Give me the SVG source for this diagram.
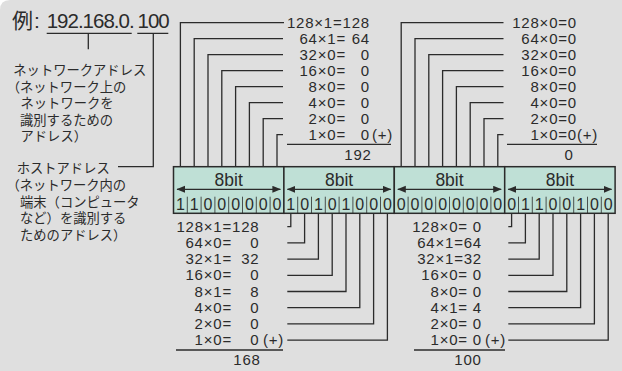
<svg xmlns="http://www.w3.org/2000/svg" width="622" height="371" viewBox="0 0 622 371">
<defs>
<style>
.bg{fill:#dfdfdf}
.ln{fill:none;stroke:#2b2b2b;stroke-width:1.3}
.num{font-family:"Liberation Sans",Arial,sans-serif;font-size:15px;fill:#2b2b2b;letter-spacing:0.8px}
.ja{font-family:"Noto Sans CJK JP","Noto Sans CJK SC",sans-serif;font-size:13.3px;fill:#2b2b2b}
.ttl{font-family:"Liberation Sans",Arial,sans-serif;font-size:20.5px;fill:#2b2b2b;letter-spacing:-1px}
.oct{fill:#bfe0d6;stroke:#2b2b2b;stroke-width:1.5}
.div{stroke:#2b2b2b;stroke-width:0.8}
.bit{font-family:"Liberation Sans",Arial,sans-serif;font-size:16px;fill:#2b2b2b;text-anchor:middle}
.lbl{font-family:"Liberation Sans",Arial,sans-serif;font-size:17.5px;fill:#2b2b2b;text-anchor:middle}
.arr{stroke:#2b2b2b;stroke-width:1.2;marker-start:url(#ah);marker-end:url(#ah)}
.e{text-anchor:end}
.m{text-anchor:middle}
</style>
<marker id="ah" markerUnits="userSpaceOnUse" markerWidth="9" markerHeight="8" refX="8" refY="3.5" orient="auto-start-reverse">
<path d="M0,0 L8.5,3.5 L0,7 Z" fill="#2b2b2b"/>
</marker>
</defs>
<rect width="622" height="371" fill="#fff"/>
<path class="bg" d="M10,0 H622 V371 H0 V10 Q0,0 10,0 Z"/>

<g id="title">
<text x="12" y="28" style="font-family:'Noto Sans CJK JP',sans-serif;font-size:21px;fill:#2b2b2b">例</text>
<text x="34" y="28" style="font-family:'Liberation Sans',Arial,sans-serif;font-size:21px;fill:#2b2b2b">:</text>
<text class="ttl" x="46.7" y="28">192.168.0.</text>
<text class="ttl" x="137.5" y="28">100</text>
<path class="ln" d="M46.7 33.3 H131.7 M137.3 33.3 H168.3"/>
</g>

<g id="network-address-label">
<text class="ja"><tspan x="13.3" y="75">ネットワークアドレス</tspan><tspan x="6.7" y="91.5">（ネットワーク上の</tspan><tspan x="20.5" y="108">ネットワークを</tspan><tspan x="20" y="124.5">識別するための</tspan><tspan x="20.5" y="141">アドレス）</tspan></text>
</g>

<g id="host-address-label">
<text class="ja"><tspan x="16.7" y="173">ホストアドレス</tspan><tspan x="6.5" y="190">（ネットワーク内の</tspan><tspan x="20" y="206.7">端末（コンピュータ</tspan><tspan x="20" y="223.3">など）を識別する</tspan><tspan x="20" y="240">ためのアドレス）</tspan></text>
</g>

<g id="connectors">
<path class="ln" d="M88.3 33.3 V49.3"/>
<path class="ln" d="M153.3 33.3 V166.7 H118"/>
<path class="ln" d="M180.4 166.7 V22.7 H284 M194.2 166.7 V38.7 H283 M208 166.7 V54.7 H283 M221.8 166.7 V70.7 H283 M235.6 166.7 V86.7 H283 M249.4 166.7 V102.7 H283 M263.2 166.7 V118.7 H283 M277 166.7 V134.7 H283"/>
<path class="ln" d="M401.2 166.7 V22.7 H503.5 M415 166.7 V38.7 H503.5 M428.8 166.7 V54.7 H503.5 M442.6 166.7 V70.7 H503.5 M456.4 166.7 V86.7 H503.5 M470.2 166.7 V102.7 H503.5 M484 166.7 V118.7 H503.5 M497.8 166.7 V134.7 H503.5"/>
<path class="ln" d="M290.8 213.3 V226.7 H287.3 M304.6 213.3 V242.9 H287.3 M318.4 213.3 V259.1 H287.3 M332.2 213.3 V275.3 H287.3 M346 213.3 V291.5 H287.3 M359.8 213.3 V307.7 H287.3 M373.6 213.3 V323.9 H287.3 M387.4 213.3 V340.1 H287.3"/>
<path class="ln" d="M511.6 213.3 V226.7 H508.3 M525.4 213.3 V242.9 H508.3 M539.2 213.3 V259.1 H508.3 M553 213.3 V275.3 H508.3 M566.8 213.3 V291.5 H508.3 M580.6 213.3 V307.7 H508.3 M594.4 213.3 V323.9 H508.3 M608.2 213.3 V340.1 H508.3"/>
</g>

<g id="octet1">
<rect class="oct" x="173.5" y="166.7" width="110.4" height="46.6"/>
<text class="lbl" x="228.7" y="185.5">8bit</text>
<line class="arr" x1="177" y1="189.3" x2="280.4" y2="189.3"/>
<path class="div" d="M187.3 196.7 V213.3 M201.1 196.7 V213.3 M214.9 196.7 V213.3 M228.7 196.7 V213.3 M242.5 196.7 V213.3 M256.3 196.7 V213.3 M270.1 196.7 V213.3"/>
<text class="bit" y="210"><tspan x="180.4">1</tspan><tspan x="194.2">1</tspan><tspan x="208">0</tspan><tspan x="221.8">0</tspan><tspan x="235.6">0</tspan><tspan x="249.4">0</tspan><tspan x="263.2">0</tspan><tspan x="277">0</tspan></text>
</g>

<g id="octet2">
<rect class="oct" x="283.9" y="166.7" width="110.4" height="46.6"/>
<text class="lbl" x="339.1" y="185.5">8bit</text>
<line class="arr" x1="287.4" y1="189.3" x2="390.8" y2="189.3"/>
<path class="div" d="M297.7 196.7 V213.3 M311.5 196.7 V213.3 M325.3 196.7 V213.3 M339.1 196.7 V213.3 M352.9 196.7 V213.3 M366.7 196.7 V213.3 M380.5 196.7 V213.3"/>
<text class="bit" y="210"><tspan x="290.8">1</tspan><tspan x="304.6">0</tspan><tspan x="318.4">1</tspan><tspan x="332.2">0</tspan><tspan x="346">1</tspan><tspan x="359.8">0</tspan><tspan x="373.6">0</tspan><tspan x="387.4">0</tspan></text>
</g>

<g id="octet3">
<rect class="oct" x="394.3" y="166.7" width="110.4" height="46.6"/>
<text class="lbl" x="449.5" y="185.5">8bit</text>
<line class="arr" x1="397.8" y1="189.3" x2="501.2" y2="189.3"/>
<path class="div" d="M408.1 196.7 V213.3 M421.9 196.7 V213.3 M435.7 196.7 V213.3 M449.5 196.7 V213.3 M463.3 196.7 V213.3 M477.1 196.7 V213.3 M490.9 196.7 V213.3"/>
<text class="bit" y="210"><tspan x="401.2">0</tspan><tspan x="415">0</tspan><tspan x="428.8">0</tspan><tspan x="442.6">0</tspan><tspan x="456.4">0</tspan><tspan x="470.2">0</tspan><tspan x="484">0</tspan><tspan x="497.8">0</tspan></text>
</g>

<g id="octet4">
<rect class="oct" x="504.7" y="166.7" width="110.4" height="46.6"/>
<text class="lbl" x="559.9" y="185.5">8bit</text>
<line class="arr" x1="508.2" y1="189.3" x2="611.6" y2="189.3"/>
<path class="div" d="M518.5 196.7 V213.3 M532.3 196.7 V213.3 M546.1 196.7 V213.3 M559.9 196.7 V213.3 M573.7 196.7 V213.3 M587.5 196.7 V213.3 M601.3 196.7 V213.3"/>
<text class="bit" y="210"><tspan x="511.6">0</tspan><tspan x="525.4">1</tspan><tspan x="539.2">1</tspan><tspan x="553">0</tspan><tspan x="566.8">0</tspan><tspan x="580.6">1</tspan><tspan x="594.4">0</tspan><tspan x="608.2">0</tspan></text>
</g>

<g id="calc-octet1">
<text class="num e" x="370" y="27.7">128×1=128</text>
<text class="num e" x="346" y="43.7">64×1=</text><text class="num e" x="370" y="43.7">64</text>
<text class="num e" x="346" y="59.7">32×0=</text><text class="num e" x="370" y="59.7">0</text>
<text class="num e" x="346" y="75.7">16×0=</text><text class="num e" x="370" y="75.7">0</text>
<text class="num e" x="346" y="91.7">8×0=</text><text class="num e" x="370" y="91.7">0</text>
<text class="num e" x="346" y="107.7">4×0=</text><text class="num e" x="370" y="107.7">0</text>
<text class="num e" x="346" y="123.7">2×0=</text><text class="num e" x="370" y="123.7">0</text>
<text class="num e" x="346" y="139.7">1×0=</text><text class="num e" x="370" y="139.7">0</text>
<text class="num" x="372" y="139.7">(+)</text>
<path class="ln" d="M287 144.3 H391"/>
<text class="num m" x="358" y="160">192</text>
</g>

<g id="calc-octet3">
<text class="num e" x="577" y="27.7">128×0=0</text>
<text class="num e" x="577" y="43.7">64×0=0</text>
<text class="num e" x="577" y="59.7">32×0=0</text>
<text class="num e" x="577" y="75.7">16×0=0</text>
<text class="num e" x="577" y="91.7">8×0=0</text>
<text class="num e" x="577" y="107.7">4×0=0</text>
<text class="num e" x="577" y="123.7">2×0=0</text>
<text class="num e" x="577" y="139.7">1×0=0</text>
<text class="num" x="577" y="139.7">(+)</text>
<path class="ln" d="M507 144.3 H597"/>
<text class="num m" x="569" y="160">0</text>
</g>

<g id="calc-octet2">
<text class="num e" x="259.5" y="231.7">128×1=128</text>
<text class="num e" x="232" y="247.9">64×0=</text><text class="num e" x="259.5" y="247.9">0</text>
<text class="num e" x="232" y="264.1">32×1=</text><text class="num e" x="259.5" y="264.1">32</text>
<text class="num e" x="232" y="280.3">16×0=</text><text class="num e" x="259.5" y="280.3">0</text>
<text class="num e" x="232" y="296.5">8×1=</text><text class="num e" x="259.5" y="296.5">8</text>
<text class="num e" x="232" y="312.7">4×0=</text><text class="num e" x="259.5" y="312.7">0</text>
<text class="num e" x="232" y="328.9">2×0=</text><text class="num e" x="259.5" y="328.9">0</text>
<text class="num e" x="232" y="345.1">1×0=</text><text class="num e" x="259.5" y="345.1">0</text>
<text class="num" x="263" y="345.1">(+)</text>
<path class="ln" d="M176 350 H283"/>
<text class="num m" x="247" y="365">168</text>
</g>

<g id="calc-octet4">
<text class="num e" x="482" y="231.7">128×0= 0</text>
<text class="num e" x="482" y="247.9">64×1=64</text>
<text class="num e" x="482" y="264.1">32×1=32</text>
<text class="num e" x="482" y="280.3">16×0= 0</text>
<text class="num e" x="482" y="296.5">8×0= 0</text>
<text class="num e" x="482" y="312.7">4×1= 4</text>
<text class="num e" x="482" y="328.9">2×0= 0</text>
<text class="num e" x="482" y="345.1">1×0= 0</text>
<text class="num" x="485" y="345.1">(+)</text>
<path class="ln" d="M414 350 H505"/>
<text class="num m" x="468" y="365">100</text>
</g>
</svg>
